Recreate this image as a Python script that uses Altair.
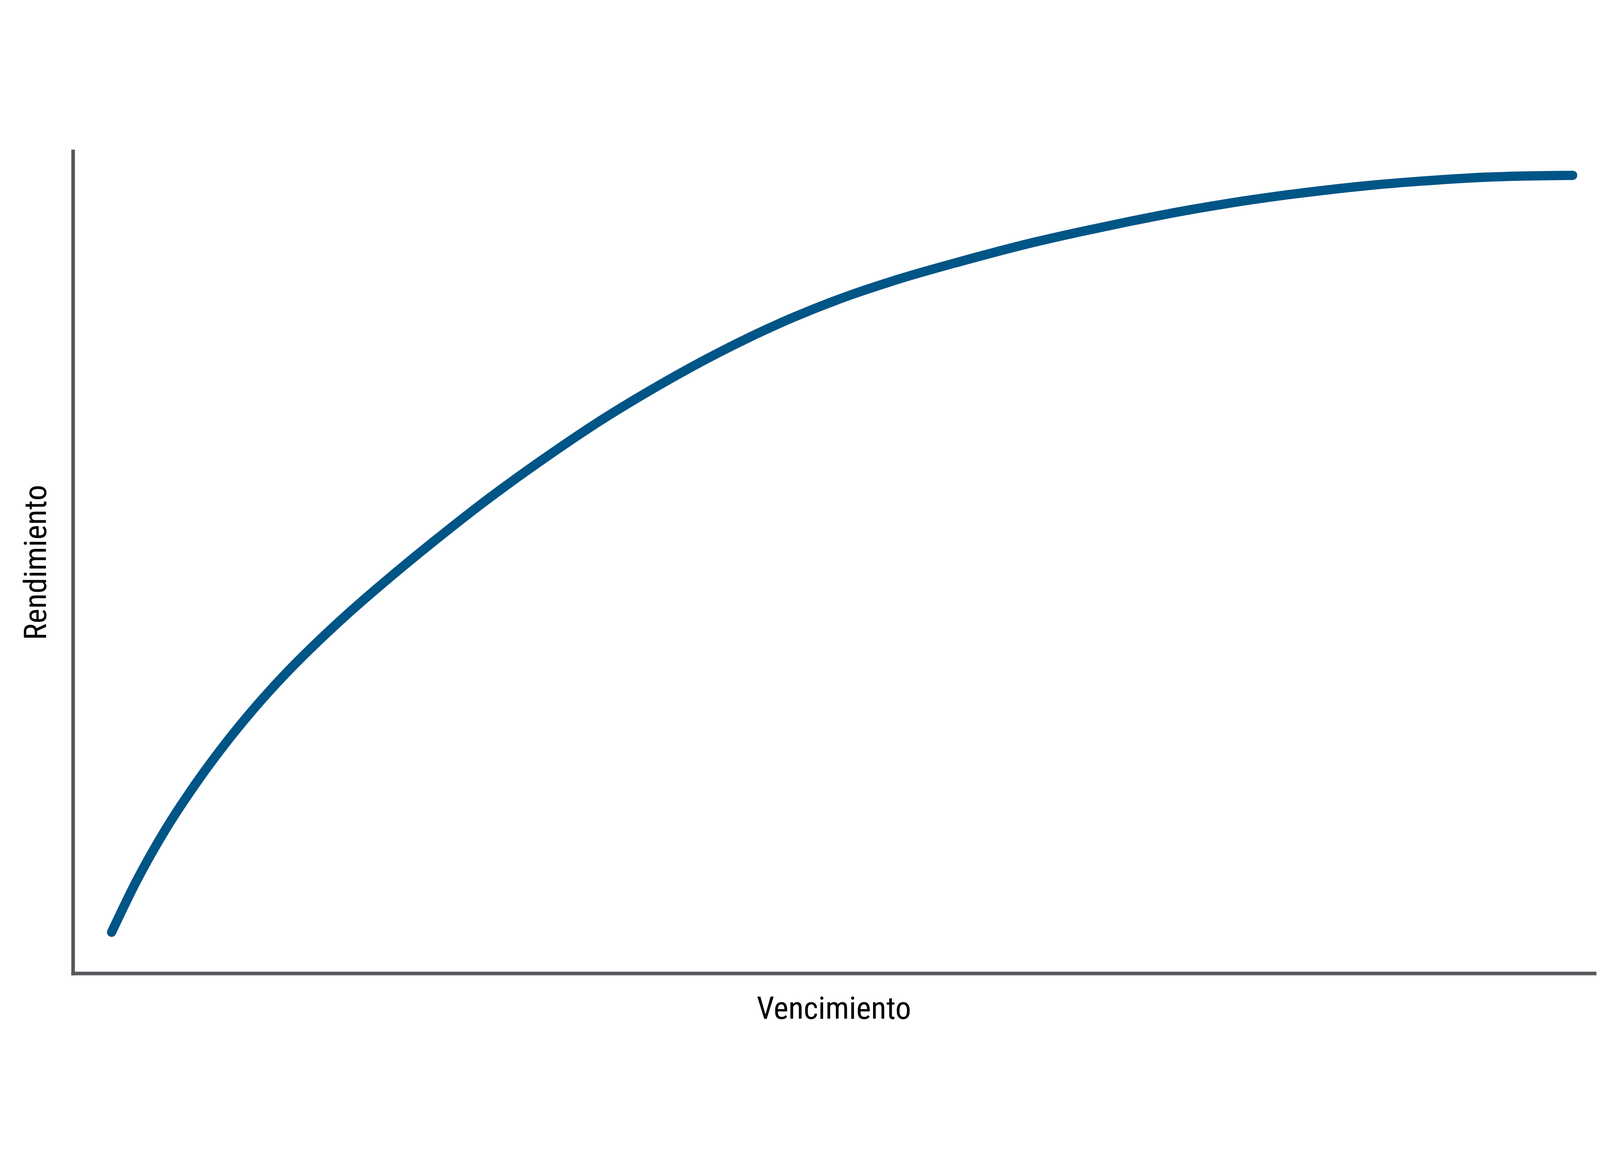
import pandas as pd
import altair as alt

# curva de rendimiento (vencimiento en años, rendimiento en %)
vencimiento = [0.762, 1.235, 1.826, 2.417, 3.008, 3.599, 4.190, 4.781, 5.372,
               6.259, 7.145, 8.032, 9.214, 10.396, 11.578, 12.760, 13.942,
               15.124, 16.306, 17.488, 18.966, 19.852, 20.857, 21.803, 22.749,
               23.694, 24.669, 25.644, 26.590, 27.535, 28.481, 29.569]
rendimiento = [0.250, 0.551, 0.875, 1.152, 1.399, 1.621, 1.822, 2.004, 2.174,
               2.411, 2.635, 2.850, 3.115, 3.361, 3.581, 3.780, 3.955,
               4.103, 4.225, 4.329, 4.448, 4.510, 4.575, 4.632, 4.682,
               4.725, 4.763, 4.795, 4.819, 4.838, 4.849, 4.854]

df = pd.DataFrame({"Vencimiento": vencimiento, "Rendimiento": rendimiento})

W = 5076
H = 2742
FONT = "Roboto Condensed, Liberation Sans Narrow, Roboto"
GRIS = "#55585c"

chart = alt.Chart(df).mark_line(
    color="#005587", strokeWidth=31, strokeCap="round", interpolate="monotone"
).encode(
    x=alt.X("Vencimiento:Q",
            scale=alt.Scale(domain=[0, 30], nice=False, zero=False),
            axis=alt.Axis(title="Vencimiento", titleX=W / 2, titleY=151,
                          titleBaseline="alphabetic", titleAlign="center")),
    y=alt.Y("Rendimiento:Q",
            scale=alt.Scale(domain=[0, 5], nice=False, zero=False),
            axis=alt.Axis(title="Rendimiento", titleX=-90, titleY=H / 2,
                          titleAngle=270, titleBaseline="alphabetic",
                          titleAlign="center")),
).properties(
    width=W,
    height=H,
    autosize=alt.AutoSizeParams(type="none"),
    padding={"left": 233, "top": 42, "right": 8, "bottom": 200},
).configure_view(
    stroke=None
).configure_axis(
    grid=False, ticks=False, labels=False,
    domainColor=GRIS, domainWidth=12, domainCap="square",
    titleFont=FONT, titleFontSize=105, titleFontWeight="normal", titleColor="#000000",
)

chart.save("out.html", embed_options={"renderer": "svg", "actions": False})
